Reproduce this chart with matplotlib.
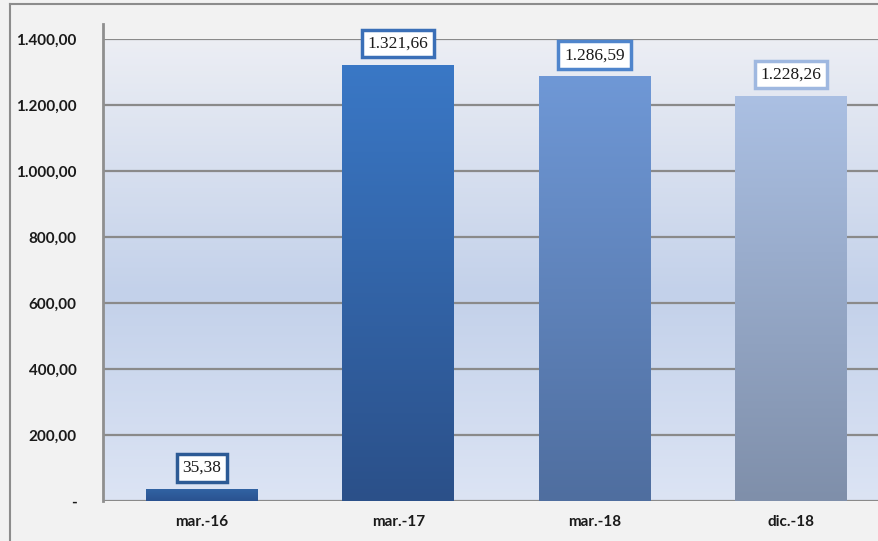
import numpy as np
import matplotlib.pyplot as plt
from matplotlib.colors import LinearSegmentedColormap, to_rgb
from matplotlib.lines import Line2D

# data
categories = ["mar.-16", "mar.-17", "mar.-18", "dic.-18"]
values = [35.38, 1321.66, 1286.59, 1228.26]
yticks = [0, 200, 400, 600, 800, 1000, 1200, 1400]

# bar colours (top, bottom) and label box edge colours
bar_top = ["#3163a3", "#3a78c6", "#6f98d6", "#abc0e3"]
bar_bottom = ["#2a5290", "#2b5089", "#4f6e9f", "#7f8faa"]
box_edge = ["#2c5a95", "#3a6fb7", "#4f85cc", "#9fb8e0"]


def fmt(v):
    # spanish style: 1.234,56
    s = "{:,.2f}".format(v)
    return s.replace(",", "X").replace(".", ",").replace("X", ".")


fig = plt.figure(figsize=(8.79, 5.41), dpi=100)
fig.patch.set_facecolor("#f2f2f2")

# outer frame (cropped chart border), top and left only
fig.add_artist(Line2D([10 / 879, 1.0], [1 - 4 / 541, 1 - 4 / 541], transform=fig.transFigure,
                      color="#8c8c8c", linewidth=1.5))
fig.add_artist(Line2D([10 / 879, 10 / 879], [0, 1 - 4 / 541], transform=fig.transFigure,
                      color="#8c8c8c", linewidth=1.5))

ax = fig.add_axes([103 / 879, 1 - 501 / 541, 1 - 103 / 879, (501 - 39) / 541])

# background gradient of plot area
bg = LinearSegmentedColormap.from_list("bg", [(0, "#dce4f4"), (0.45, "#c3d1ea"), (1, "#eceef4")])
ax.imshow(np.linspace(0, 1, 256).reshape(-1, 1), cmap=bg, origin="lower", aspect="auto",
          extent=(-0.505, 3.45, 0, 1400), zorder=0)

for y in yticks:
    ax.axhline(y, color="#8a8a8a", linewidth=1.6, zorder=1)

x = np.arange(len(categories))
bars = ax.bar(x, values, width=0.57, color="none", zorder=2)

for i, b in enumerate(bars):
    cm = LinearSegmentedColormap.from_list("b%d" % i, [to_rgb(bar_bottom[i]), to_rgb(bar_top[i])])
    im = ax.imshow(np.linspace(0, 1, 256).reshape(-1, 1), cmap=cm, origin="lower", aspect="auto",
                   extent=(b.get_x(), b.get_x() + b.get_width(), 0, b.get_height()), zorder=2)
    im.set_clip_path(b)
    ax.text(x[i], values[i] + 40, fmt(values[i]), ha="center", va="bottom",
            fontsize=12.5, family="Liberation Serif", color="#1a1a1a", zorder=5, clip_on=False,
            bbox=dict(boxstyle="square,pad=0.33", facecolor="white", edgecolor=box_edge[i], linewidth=2.5))

ax.set_xlim(-0.505, 3.45)
ax.set_ylim(0, 1400)

for s in ax.spines.values():
    s.set_visible(False)
ax.add_line(Line2D([0, 0], [0, 1 + 15 / 462], transform=ax.transAxes, color="#8f8f8f",
                   linewidth=2, clip_on=False, zorder=3))

ax.set_yticks(yticks)
ax.set_yticklabels(["-" if v == 0 else fmt(v) for v in yticks])
ax.set_xticks(x)
ax.set_xticklabels(categories)
ax.tick_params(length=0, pad=10)
ax.tick_params(axis="y", pad=19)
for lab in ax.get_yticklabels() + ax.get_xticklabels():
    lab.set_fontfamily("Lato")
    lab.set_fontweight("bold")
    lab.set_fontsize(11)
    lab.set_color("#1a1a1a")

fig.savefig("out.png", dpi=100, facecolor=fig.get_facecolor())
